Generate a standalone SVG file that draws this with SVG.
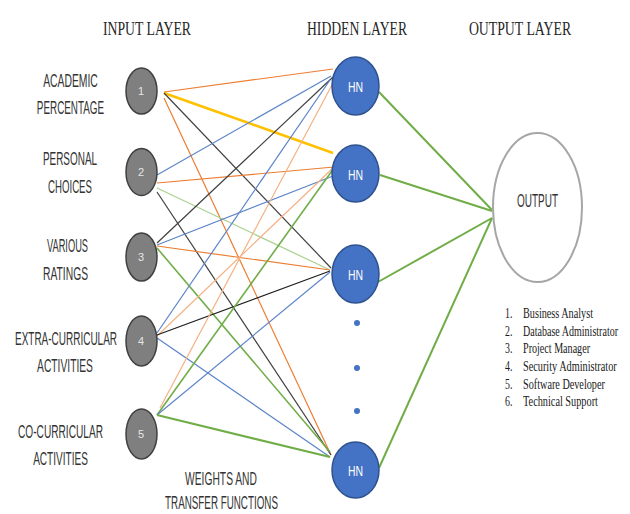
<svg xmlns="http://www.w3.org/2000/svg" width="630" height="514" viewBox="0 0 630 514">
<style>
.head{font-family:"Liberation Serif",serif;font-size:19px;fill:#262626;text-anchor:middle}
.lbl{font-family:"Liberation Sans",sans-serif;font-size:18px;fill:#333333;text-anchor:middle}
.inp{fill:#7f7f7f;stroke:#404040;stroke-width:1.5}
.inum{font-family:"Liberation Sans",sans-serif;font-size:11px;fill:#e6e6e6;text-anchor:middle}
.hid{fill:#4472c4;stroke:#2f528f;stroke-width:1.5}
.htxt{font-family:"Liberation Sans",sans-serif;font-size:15px;fill:#ffffff;text-anchor:middle}
.dot{fill:#4472c4}
.list{font-family:"Liberation Serif",serif;font-size:15px;fill:#1a1a1a}
.c{fill:none;stroke-width:1.2}
.or{stroke:#ed7d31}
.lo{stroke:#f4b183}
.bl{stroke:#5b84c8}
.dk{stroke:#404040}
.gr{stroke:#70ad47}
.lg{stroke:#a9d18e}
.ye{stroke:#ffc000}
</style>
<rect width="630" height="514" fill="#ffffff"/>
<g id="headings">
<text class="head" transform="translate(147,35) scale(0.71,1)" textLength="124" lengthAdjust="spacingAndGlyphs">INPUT LAYER</text>
<text class="head" transform="translate(357,35) scale(0.71,1)" textLength="141" lengthAdjust="spacingAndGlyphs">HIDDEN LAYER</text>
<text class="head" transform="translate(520,35) scale(0.71,1)" textLength="144" lengthAdjust="spacingAndGlyphs">OUTPUT LAYER</text>
</g>
<g id="connectors">
<line class="c or" x1="164" y1="92" x2="333" y2="69"/>
<line class="c ye" style="stroke-width:2.6" x1="164" y1="93" x2="333" y2="153"/>
<line class="c dk" x1="164" y1="93" x2="331" y2="268"/>
<line class="c or" x1="164" y1="98" x2="331" y2="455"/>
<line class="c bl" x1="157" y1="175" x2="331" y2="76"/>
<line class="c or" x1="157" y1="183" x2="334" y2="167"/>
<line class="c lg" x1="157" y1="188" x2="330" y2="270"/>
<line class="c dk" x1="157" y1="192" x2="331" y2="455"/>
<line class="c dk" x1="157" y1="243" x2="333" y2="77"/>
<line class="c bl" x1="157" y1="245" x2="333" y2="176"/>
<line class="c or" x1="157" y1="246" x2="330" y2="270"/>
<line class="c gr" style="stroke-width:1.6" x1="157" y1="248" x2="330" y2="452"/>
<line class="c bl" x1="157" y1="333" x2="330" y2="80"/>
<line class="c lo" x1="157" y1="336" x2="333" y2="168"/>
<line class="c dk" style="stroke:#1f1f1f" x1="157" y1="335" x2="330" y2="271"/>
<line class="c bl" x1="157" y1="338" x2="330" y2="457"/>
<line class="c lo" x1="160" y1="408" x2="333" y2="83"/>
<line class="c gr" style="stroke-width:1.6" x1="157" y1="415" x2="334" y2="168"/>
<line class="c bl" x1="157" y1="415" x2="330" y2="272"/>
<line class="c gr" style="stroke-width:2.2" x1="157" y1="415" x2="330" y2="457"/>
<line class="c gr" style="stroke-width:2" x1="379" y1="92" x2="492" y2="210"/>
<line class="c gr" style="stroke-width:2" x1="380" y1="175" x2="492" y2="211"/>
<line class="c gr" style="stroke-width:2" x1="378" y1="282" x2="492" y2="218"/>
<line class="c gr" style="stroke-width:2" x1="379" y1="468" x2="492" y2="218"/>
</g>
<g id="input-1">
<ellipse class="inp" cx="141.5" cy="91" rx="15.5" ry="23"/>
<text class="inum" x="141" y="95">1</text>
<text class="lbl" transform="translate(70.5,87) scale(0.57,1)" textLength="96" lengthAdjust="spacingAndGlyphs">ACADEMIC</text>
<text class="lbl" transform="translate(70.5,114) scale(0.57,1)" textLength="118" lengthAdjust="spacingAndGlyphs">PERCENTAGE</text>
</g>
<g id="input-2">
<ellipse class="inp" cx="141.5" cy="172" rx="15.5" ry="23.5"/>
<text class="inum" x="141" y="176">2</text>
<text class="lbl" transform="translate(70,165) scale(0.57,1)" textLength="95" lengthAdjust="spacingAndGlyphs">PERSONAL</text>
<text class="lbl" transform="translate(70,193) scale(0.57,1)" textLength="77" lengthAdjust="spacingAndGlyphs">CHOICES</text>
</g>
<g id="input-3">
<ellipse class="inp" cx="141.5" cy="257" rx="15.5" ry="24"/>
<text class="inum" x="141" y="261">3</text>
<text class="lbl" transform="translate(67.5,252) scale(0.57,1)" textLength="72" lengthAdjust="spacingAndGlyphs">VARIOUS</text>
<text class="lbl" transform="translate(65.5,280) scale(0.57,1)" textLength="79" lengthAdjust="spacingAndGlyphs">RATINGS</text>
</g>
<g id="input-4">
<ellipse class="inp" cx="141.5" cy="341" rx="15.5" ry="25"/>
<text class="inum" x="141" y="345">4</text>
<text class="lbl" transform="translate(66,345) scale(0.57,1)" textLength="179" lengthAdjust="spacingAndGlyphs">EXTRA-CURRICULAR</text>
<text class="lbl" transform="translate(65,372) scale(0.57,1)" textLength="98" lengthAdjust="spacingAndGlyphs">ACTIVITIES</text>
</g>
<g id="input-5">
<ellipse class="inp" cx="141.5" cy="434" rx="15.5" ry="25"/>
<text class="inum" x="141" y="438">5</text>
<text class="lbl" transform="translate(60.5,438) scale(0.57,1)" textLength="149" lengthAdjust="spacingAndGlyphs">CO-CURRICULAR</text>
<text class="lbl" transform="translate(60.5,465) scale(0.57,1)" textLength="96" lengthAdjust="spacingAndGlyphs">ACTIVITIES</text>
</g>
<g id="hidden-1">
<ellipse class="hid" cx="355.5" cy="86" rx="23.5" ry="29"/>
<text class="htxt" transform="translate(355.5,92) scale(0.7,1)" textLength="21.5" lengthAdjust="spacingAndGlyphs">HN</text>
</g>
<g id="hidden-2">
<ellipse class="hid" cx="355.5" cy="173.5" rx="23.5" ry="28.5"/>
<text class="htxt" transform="translate(355.5,179.5) scale(0.7,1)" textLength="21.5" lengthAdjust="spacingAndGlyphs">HN</text>
</g>
<g id="hidden-3">
<ellipse class="hid" cx="355.5" cy="274" rx="23.5" ry="29"/>
<text class="htxt" transform="translate(355.5,280) scale(0.7,1)" textLength="21.5" lengthAdjust="spacingAndGlyphs">HN</text>
</g>
<g id="hidden-dots">
<circle class="dot" cx="357" cy="323" r="3"/>
<circle class="dot" cx="357" cy="368" r="3"/>
<circle class="dot" cx="357" cy="411" r="3"/>
</g>
<g id="hidden-4">
<ellipse class="hid" cx="355.5" cy="470" rx="23.5" ry="28"/>
<text class="htxt" transform="translate(355.5,476) scale(0.7,1)" textLength="21.5" lengthAdjust="spacingAndGlyphs">HN</text>
</g>
<g id="output">
<ellipse cx="537.5" cy="207.5" rx="44.5" ry="74.5" fill="#ffffff" stroke="#a6a6a6" stroke-width="2"/>
<text transform="translate(537.5,207) scale(0.57,1)" font-family="Liberation Sans, sans-serif" font-size="18" fill="#333333" text-anchor="middle" textLength="72" lengthAdjust="spacingAndGlyphs">OUTPUT</text>
</g>
<g id="output-list">
<g transform="translate(505,0) scale(0.66,1)">
<text class="list" x="0" y="318">1.</text><text class="list" x="27.3" y="318" textLength="106" lengthAdjust="spacingAndGlyphs">Business Analyst</text>
<text class="list" x="0" y="336">2.</text><text class="list" x="27.3" y="336" textLength="144" lengthAdjust="spacingAndGlyphs">Database Administrator</text>
<text class="list" x="0" y="353.5">3.</text><text class="list" x="27.3" y="353.5" textLength="101.5" lengthAdjust="spacingAndGlyphs">Project Manager</text>
<text class="list" x="0" y="371">4.</text><text class="list" x="27.3" y="371" textLength="142" lengthAdjust="spacingAndGlyphs">Security Administrator</text>
<text class="list" x="0" y="389">5.</text><text class="list" x="27.3" y="389" textLength="124" lengthAdjust="spacingAndGlyphs">Software Developer</text>
<text class="list" x="0" y="406.5">6.</text><text class="list" x="27.3" y="406.5" textLength="113.5" lengthAdjust="spacingAndGlyphs">Technical Support</text>
</g>
</g>
<g id="caption">
<text class="lbl" transform="translate(221,485) scale(0.57,1)" textLength="126" lengthAdjust="spacingAndGlyphs">WEIGHTS AND</text>
<text class="lbl" transform="translate(221.5,509) scale(0.57,1)" textLength="198" lengthAdjust="spacingAndGlyphs">TRANSFER FUNCTIONS</text>
</g>
</svg>
